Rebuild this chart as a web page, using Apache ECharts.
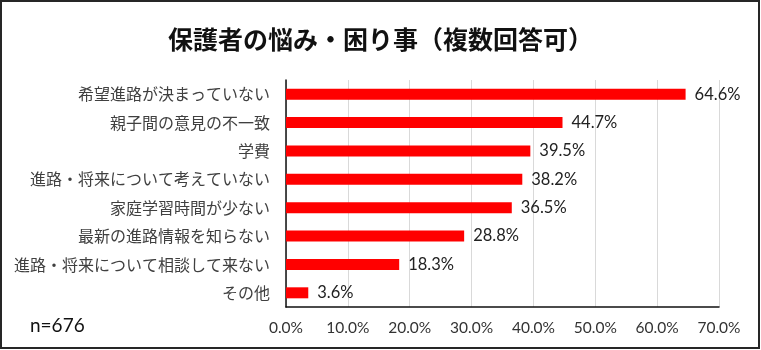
<!DOCTYPE html>
<html>
<head>
<meta charset="utf-8">
<script src="https://cdn.jsdelivr.net/npm/echarts@6/dist/echarts.min.js"></script>
<style>
  html, body { margin: 0; padding: 0; background: #fff; }
  #chart { width: 761px; height: 350px; }
</style>
</head>
<body>
<div id="chart"></div>
<script>
// Survey: parents' worries and troubles (multiple answers allowed), n=676
const titleText = '保護者の悩み・困り事（複数回答可）';
const sampleNote = 'n=676';
const categories = [
  '希望進路が決まっていない',
  '親子間の意見の不一致',
  '学費',
  '進路・将来について考えていない',
  '家庭学習時間が少ない',
  '最新の進路情報を知らない',
  '進路・将来について相談して来ない',
  'その他'
];
const percents = [64.6, 44.7, 39.5, 38.2, 36.5, 28.8, 18.3, 3.6];
const axisMax = 70;
const axisStep = 10;

const latin = "Lato, 'Noto Sans CJK JP', sans-serif";
const jp = "'Noto Sans CJK JP', sans-serif";

const chart = echarts.init(document.getElementById('chart'), null, { renderer: 'canvas' });
chart.setOption({
  backgroundColor: '#ffffff',
  animation: false,
  title: {
    text: titleText,
    left: 'center',
    top: 22,
    textStyle: { fontFamily: jp, fontSize: 25, fontWeight: 'bold', color: '#111' }
  },
  graphic: [
    {
      type: 'rect',
      shape: { x: 1, y: 1, width: 758, height: 347 },
      style: { fill: 'none', stroke: '#262626', lineWidth: 2 },
      z: 100
    },
    {
      type: 'text',
      left: 30,
      top: 316,
      style: { text: sampleNote, font: '19px ' + latin, fill: '#111' }
    }
  ],
  grid: { left: 286, right: 42, top: 80, bottom: 43, containLabel: false },
  xAxis: {
    type: 'value',
    min: 0,
    max: axisMax,
    interval: axisStep,
    axisLine: { show: true, lineStyle: { color: '#111', width: 1.5 } },
    axisTick: { show: false },
    axisLabel: {
      margin: 13,
      fontFamily: latin,
      fontSize: 15.5,
      color: '#333',
      formatter: v => v.toFixed(1) + '%'
    },
    splitLine: { show: true, lineStyle: { color: '#d9d9d9', width: 1 } }
  },
  yAxis: {
    type: 'category',
    data: categories,
    inverse: true,
    axisLine: { show: true, lineStyle: { color: '#111', width: 1.5 } },
    axisTick: { show: false },
    axisLabel: { margin: 16, fontFamily: jp, fontSize: 16, color: '#404040' }
  },
  series: [{
    type: 'bar',
    data: percents,
    barWidth: 11,
    itemStyle: { color: '#ff0000' },
    label: {
      show: true,
      position: 'right',
      distance: 9,
      fontFamily: latin,
      fontSize: 16.5,
      color: '#222',
      formatter: p => p.value.toFixed(1) + '%'
    }
  }]
});
</script>
</body>
</html>
